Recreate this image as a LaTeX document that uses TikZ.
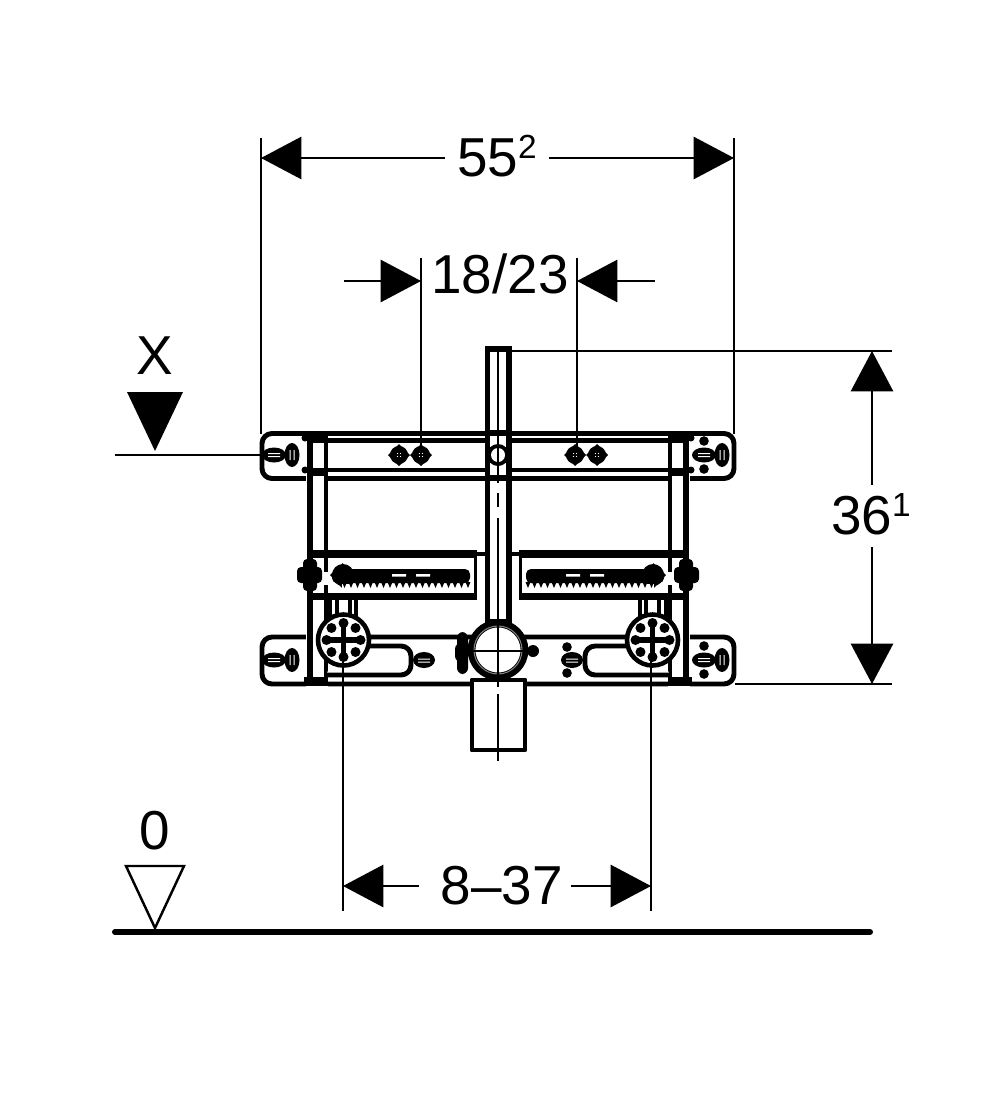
\documentclass[tikz,border=0pt]{standalone}
\usepackage{fontspec}
\setmainfont{Liberation Sans}
\usetikzlibrary{arrows.meta}
\tikzset{
  dimline/.style={line width=0.7pt},
  dimarrow/.style={line width=0.7pt,{Triangle[length=1.15mm*3.5,width=1.2mm*3.5]}-},
  dimtext/.style={font=\fontsize{15.6}{16}\selectfont,inner sep=0.11cm},
  wall/.style={line width=1.4pt,line join=round},
  thinwall/.style={line width=1.1pt},
  centre/.style={line width=0.7pt}
}
\def\supnum#1{\smash{\raisebox{0.62ex}{\fontsize{9.5}{10}\selectfont #1}}}
\begin{document}
\begin{tikzpicture}[x=0.01cm,y=-0.01cm]
\useasboundingbox (0,0) rectangle (1000,1112);
% plates
\draw[wall,rounded corners=1mm] (262,433.5) rectangle (734,478.5);
\draw[wall,rounded corners=1mm] (262,637) rectangle (734,684);
% mirrored half of the frame
\foreach \m/\o in {1/0,-1/996}{
\begin{scope}[shift={(\o,0)},xscale=\m]
\fill[white] (306,428) rectangle (328,690);
\draw[line width=1.8pt] (310,433) -- (310,685);
\draw[thinwall] (326,433) -- (326,685);
\fill (304,431) rectangle (328,438);
\fill (304,677) rectangle (328,685.5);
\draw[line width=1.2pt] (310,440.5) -- (487,440.5);
\draw[line width=1.2pt] (310,470) -- (487,470);
\draw[wall] (310,474) -- (328,474);
% rack
\fill[white] (312,550) rectangle (476,600);
\fill (308,550) rectangle (476,558);
\fill (308,593) rectangle (476,600);
\draw[thinwall] (475.5,550) -- (475.5,600) (476,554) -- (488,554);
\draw[line width=1.8pt] (310,550) -- (310,600);
\draw[thinwall] (326,558) -- (326,572) (326,585) -- (326,593);
\fill[rounded corners=0.5mm] (332,569) rectangle (470,583);
\fill (343,575) circle (11);
\fill (330,575) -- (343,563) -- (343,589) -- cycle;
\fill[white] (392,574) rectangle (406,576.5) (416,574) rectangle (430,576.5);
\fill[white] (342,584) rectangle (470,590);
\foreach \t in {342,348.5,...,468}{
  \fill (\t,582) -- (\t+5,582) -- (\t+2.5,588) -- cycle;
}
% outer bolt
\fill[rounded corners=0.4mm] (303,559) rectangle (317,591);
\fill[rounded corners=0.4mm] (297,567) rectangle (322,583);
% top rail bolts
\foreach \b in {399,421}{
  \fill (\b,455) circle (9);
  \fill (\b-11,455) -- (\b,444) -- (\b+11,455) -- (\b,466) -- cycle;
  \foreach \dx in {-1.5,1.5} \foreach \dy in {-1.5,1.5}
    \fill[white] (\b+\dx,455+\dy) circle (0.6);
}
% slot
\draw[wall,rounded corners=1mm,fill=white] (340,646) -- (411,646) -- (411,675) -- (326,675);
% neck and flange
\draw[thinwall] (330,600) -- (330,619) (337,600) -- (337,614) (350,600) -- (350,614) (356,600) -- (356,618);
\draw[line width=1.3pt,fill=white] (343.5,640) circle (25.5);
\foreach \a in {0,45,...,315}{
  \fill (\a:17) ++(343.5,640) circle (5);
}
\draw[line width=1.5pt] (326,640) -- (361,640) (343.5,623) -- (343.5,657);
% fastener by the ring
\fill (424,660) ellipse (11 and 8);
\fill[white] (418,658.5) rectangle (430,659.5) (418,661.5) rectangle (430,662.5);
\end{scope}
}
% fasteners on the plates
\foreach \y in {455,660}{
  \fill (274,\y) ellipse (12 and 7.5);
  \fill (292,\y) ellipse (7.5 and 12);
  \fill[white] (268,\y-2) rectangle (280,\y-1) (268,\y+1) rectangle (280,\y+2);
  \fill[white] (289.5,\y-5) rectangle (290.5,\y+5) (293.5,\y-5) rectangle (294.5,\y+5);
  \fill (704,\y) ellipse (12 and 7.5);
  \fill (722,\y) ellipse (7.5 and 12);
  \fill[white] (698,\y-2) rectangle (710,\y-1) (698,\y+1) rectangle (710,\y+2);
  \fill[white] (719.5,\y-5) rectangle (720.5,\y+5) (723.5,\y-5) rectangle (724.5,\y+5);
  \fill (704,\y-14) circle (4.8);
  \fill (704,\y+14) circle (4.8);
}
\fill (305,438) circle (3.5) (305,470) circle (3.5);
\fill (691,438) circle (3.5) (691,470) circle (3.5);
\fill (567,647) circle (4.8) (567,673) circle (4.8);
% centre pipe
\draw[line width=1.6pt,fill=white] (487.5,349) rectangle (509,622);
\draw[line width=1.6pt,fill=white] (487.5,433) rectangle (509,478);
\fill (498,455) circle (11);
\fill[white] (498,455) circle (7);
\fill (498,455) circle (1);
% lower pipe
\draw[wall,fill=white] (472,680) rectangle (525,750);
% ring
\fill[rounded corners=0.6mm] (457,632) rectangle (468,674);
\fill[rounded corners=0.6mm] (455,643) rectangle (468,662);
\fill (533,651) circle (6);
\draw[line width=2.2pt,fill=white] (498,650) circle (26.5);
\draw[line width=0.3pt,gray] (498,650) circle (24);
\draw[line width=0.8pt] (472,651) -- (524,651);
% centre lines
\draw[centre,dash pattern=on 38pt off 3pt on 4pt off 3pt] (498,349) -- (498,620);
\draw[centre] (498,624) -- (498,678);
\draw[centre,dash pattern=on 2pt off 2pt on 24pt off 2pt] (498,680) -- (498,761);
% dimension 55
\coordinate (extA) at (261,138);
\coordinate (extB) at (734,138);
\coordinate (extAe) at (261,434);
\coordinate (extBe) at (734,434);
\coordinate (tipA) at (261,158);
\coordinate (tipB) at (734,158);
\node[dimtext] (width) at (497,158) {55\supnum{2}};
\draw[dimline] (extA) -- (extAe);
\draw[dimline] (extB) -- (extBe);
\draw[dimarrow] (tipA) -- (width);
\draw[dimarrow] (tipB) -- (width);
% dimension 18/23
\coordinate (extC) at (421,258);
\coordinate (extD) at (577,258);
\coordinate (extCe) at (421,447);
\coordinate (extDe) at (577,447);
\coordinate (tipC) at (421,281);
\coordinate (tipD) at (577,281);
\coordinate (tailC) at (344,281);
\coordinate (tailD) at (655,281);
\node[dimtext] (spacing) at (500,274) {18/23};
\draw[dimline] (extC) -- (extCe);
\draw[dimline] (extD) -- (extDe);
\draw[dimarrow] (tipC) -- (tailC);
\draw[dimarrow] (tipD) -- (tailD);
% dimension 36
\coordinate (extE) at (499,351);
\coordinate (extEe) at (892,351);
\coordinate (extF) at (735,684);
\coordinate (extFe) at (892,684);
\coordinate (tipE) at (872,351);
\coordinate (tipF) at (872,684);
\node[dimtext] (height) at (871,516) {36\supnum{1}};
\draw[dimline] (extE) -- (extEe);
\draw[dimline] (extF) -- (extFe);
\draw[dimarrow] (tipE) -- (tipE |- height.north);
\draw[dimarrow] (tipF) -- (tipF |- height.south);
% dimension 8-37
\coordinate (extG) at (343,660);
\coordinate (extH) at (651,660);
\coordinate (extGe) at (343,911);
\coordinate (extHe) at (651,911);
\coordinate (tipG) at (343,886);
\coordinate (tipH) at (651,886);
\node[dimtext,inner sep=0.07cm] (range) at (502,886) {8--37};
\draw[dimline] (extG) -- (extGe);
\draw[dimline] (extH) -- (extHe);
\draw[dimarrow,shorten >=0.14cm] (tipG) -- (range);
\draw[dimarrow] (tipH) -- (range);
% section mark
\node[dimtext] (markX) at (155,356) {X};
\fill (127,392) -- (183,392) -- (155,451) -- cycle;
\coordinate (cutA) at (115,455);
\coordinate (cutB) at (262,455);
\draw[dimline] (cutA) -- (cutB);
% floor level
\node[dimtext] (markZero) at (155,831) {0};
\draw[dimline,fill=white] (126,866) -- (184,866) -- (155,928) -- cycle;
\coordinate (floorA) at (115,932);
\coordinate (floorB) at (870,932);
\draw[line width=1.7pt,line cap=round] (floorA) -- (floorB);
\end{tikzpicture}
\end{document}
